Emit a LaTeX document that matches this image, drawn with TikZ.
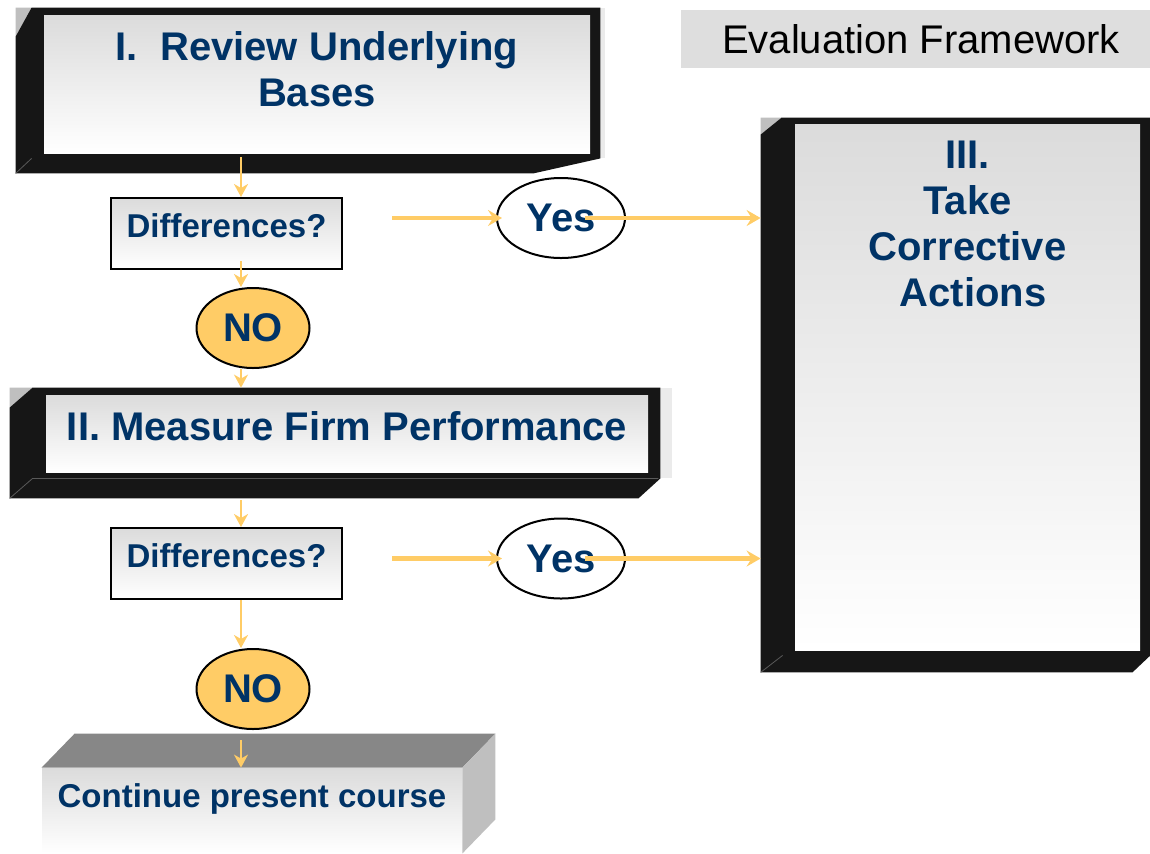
\documentclass[tikz,border=0pt]{standalone}
\usepackage{fontspec}
\setmainfont{Liberation Sans}
\usetikzlibrary{positioning,calc,shapes.geometric,arrows.meta,backgrounds}

\definecolor{navy}{RGB}{0,51,102}
\definecolor{flowyellow}{RGB}{255,204,102}
\definecolor{bevelblack}{RGB}{22,22,22}

\tikzset{
  panel/.style={inner sep=0pt, top color=black!14, bottom color=white},
  headtext/.style={inner sep=0pt, text=navy, align=center, font=\bfseries\fontsize{20}{23}\selectfont},
  smalltext/.style={inner sep=0pt, text=navy, font=\bfseries\fontsize{16.5}{19}\selectfont},
  decision/.style={draw=black, line width=1pt, top color=black!14, bottom color=white,
    minimum width=115.5pt, minimum height=35.5pt, inner sep=0pt, text depth=8pt,
    text=navy, font=\bfseries\fontsize{16.5}{19}\selectfont},
  answer/.style={ellipse, draw=black, line width=1pt, inner sep=0pt, minimum height=40pt,
    text=navy, font=\bfseries\fontsize{20}{23}\selectfont},
  flow/.style={draw=flowyellow, line width=1pt, -{Stealth[length=6.5pt,width=7pt,inset=2pt]}},
  yesflow/.style={draw=flowyellow, line width=2.2pt, -{Stealth[length=7pt,width=8pt,inset=2.5pt]}},
  bevelline/.style={draw=black!65, line width=0.4pt},
}

\begin{document}
\begin{tikzpicture}[x=0.5pt,y=-0.5pt]
  \useasboundingbox (0,0) rectangle (1150,853);

  % Nodes

  % title
  \node[fill=black!13, minimum width=234.5pt, minimum height=29pt, inner sep=0pt,
    font=\fontsize{20}{23}\selectfont] (title) at (915.5,39) {\ Evaluation Framework};

  % I
  \node[panel, minimum width=273pt, minimum height=69pt] (review) at (317,84) {};
  \node[headtext, below=8.5pt of review.north] (reviewtext) {I.\ \ Review Underlying\\Bases};

  \node[decision] (diff1) at (226.5,233.5) {Differences?};
  \node[answer, fill=flowyellow, minimum width=56.5pt] (no1) at (253,328) {NO};
  \node[answer, fill=white, minimum width=64pt] (yes1) at (561,218) {Yes};

  % II
  \node[panel, minimum width=301pt, minimum height=38.5pt] (measure) at (347,433.5) {};
  \node[headtext, below=8.5pt of measure.north] (measuretext) {II. Measure Firm Performance};

  \node[decision] (diff2) at (226.5,563.5) {Differences?};
  \node[answer, fill=flowyellow, minimum width=56.5pt] (no2) at (253,689) {NO};
  \node[answer, fill=white, minimum width=64pt] (yes2) at (561,558.5) {Yes};

  % III
  \node[panel, minimum width=172.5pt, minimum height=263pt] (corrective) at (967.5,387) {};
  \node[headtext, below=8.5pt of corrective.north] (correctivetext) {III.\\Take\\Corrective\\\ Actions};

  % continue box
  \node[panel, minimum width=210pt, minimum height=42.5pt] (front) at (252,810.5) {};
  \fill[black!47] (front.north west) -- ++(33,-34) -- ($(front.north east)+(33,-34)$) -- (front.north east) -- cycle;
  \fill[black!25] (front.north east) -- ++(33,-34) -- ($(front.south east)+(33,-34)$) -- (front.south east) -- cycle;
  \node[smalltext, below=8pt of front.north] (fronttext) {Continue present course};

  % Frames
  \begin{scope}[on background layer]
    % I
    \fill[black!25] ($(review.north west)+(-28,-7)$) -- ($(review.north west)+(-12,-7)$) -- ($(review.north west)+(-28,22)$) -- cycle;
    \fill[black!8] ($(review.north east)+(10,-7)$) rectangle ($(review.south east)+(15,5)$);
    \fill[bevelblack] ($(review.north west)+(-28,22)$) -- ($(review.north west)+(-12,-7)$) -- ($(review.north east)+(10,-7)$)
      -- ($(review.south east)+(10,5)$) -- ($(review.south east)+(-57,20)$) -- ($(review.south west)+(-28,20)$) -- cycle;
    \draw[bevelline] ($(review.south west)+(-28,20)$) -- ($(review.south west)+(-12,5)$);
    % II
    \fill[black!25] ($(measure.north west)+(-36,-7)$) -- ($(measure.north west)+(-13,-7)$) -- ($(measure.north west)+(-36,13)$) -- cycle;
    \fill[black!8] ($(measure.north east)+(12,-7)$) rectangle ($(measure.south east)+(24,6)$);
    \fill[bevelblack] ($(measure.north west)+(-36,13)$) -- ($(measure.north west)+(-13,-7)$) -- ($(measure.north east)+(12,-7)$)
      -- ($(measure.south east)+(12,6)$) -- ($(measure.south east)+(-10,26)$) -- ($(measure.south west)+(-36,26)$) -- cycle;
    \draw[bevelline] ($(measure.south west)+(-36,26)$) -- ($(measure.south west)+(-13,6)$) -- ($(measure.south east)+(10,6)$);
    % III
    \fill[black!25] ($(corrective.north west)+(-34,-6)$) -- ($(corrective.north west)+(-13,-6)$) -- ($(corrective.north west)+(-34,11)$) -- cycle;
    \fill[bevelblack] ($(corrective.north west)+(-34,11)$) -- ($(corrective.north west)+(-13,-6)$) -- ($(corrective.north east)+(10,-6)$)
      -- ($(corrective.south east)+(10,5)$) -- ($(corrective.south east)+(-8,22)$) -- ($(corrective.south west)+(-34,22)$) -- cycle;
    \draw[bevelline] ($(corrective.south west)+(-34,22)$) -- ($(corrective.south west)+(-12,5)$);
  \end{scope}

  % Connect the nodes
  \coordinate (spine) at (241,0);

  \draw[flow] ([yshift=-2pt]review.south -| spine) -- (diff1.north -| spine);
  \draw[flow] ([yshift=4.5pt]diff1.south -| spine) -- (no1.north -| spine);
  \draw[flow] (no1.south -| spine) -- ([yshift=3.5pt]measure.north -| spine);
  \draw[flow] ([yshift=-14pt]measure.south -| spine) -- (diff2.north -| spine);
  \draw[flow] (diff2.south -| spine) -- (no2.north -| spine);
  \draw[flow] ([yshift=-5pt]no2.south -| spine) -- (front.north -| spine);

  \draw[yesflow] ([xshift=-52pt]yes1.west) -- ([xshift=3pt]yes1.west);
  \draw[yesflow] ([xshift=12pt]yes1.center) -- ([xshift=-17pt]corrective.west |- yes1.center);
  \draw[yesflow] ([xshift=-52pt]yes2.west) -- ([xshift=3pt]yes2.west);
  \draw[yesflow] ([xshift=12pt]yes2.center) -- ([xshift=-17pt]corrective.west |- yes2.center);
\end{tikzpicture}
\end{document}
